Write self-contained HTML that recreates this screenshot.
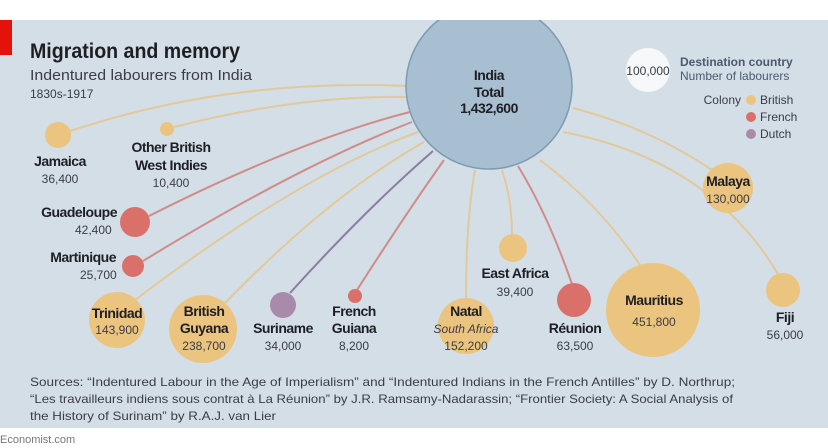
<!DOCTYPE html>
<html><head><meta charset="utf-8"><style>
html,body{margin:0;padding:0;background:#fff;}
svg{display:block;font-family:"Liberation Sans",sans-serif;}
.b{font-weight:bold;fill:#1e1e24;font-size:14px;letter-spacing:-0.5px;}
.n{fill:#3c3c44;font-size:12px;}
</style></head><body>
<svg width="828" height="448" viewBox="0 0 828 448" xmlns="http://www.w3.org/2000/svg">
<defs><clipPath id="pc"><rect x="0" y="20" width="828" height="408"/></clipPath></defs>
<rect x="0" y="20" width="828" height="408" fill="#d3dee7"/>
<rect x="0" y="20" width="12" height="35" fill="#e3120b"/>
<g fill="none" stroke-width="2">
<path d="M70,131 Q230,78 407,86" stroke="#e2c99b"/>
<path d="M174,127 Q300,95 408,97" stroke="#e2c99b"/>
<path d="M149,216 Q300,140 410,112" stroke="#cf8d8a"/>
<path d="M143,261 Q300,165 412,122" stroke="#cf8d8a"/>
<path d="M135,300 Q300,175 418,132" stroke="#e2c99b"/>
<path d="M225,303 Q330,195 424,142" stroke="#e2c99b"/>
<path d="M290,293 Q365,210 433,151" stroke="#8a7fa0"/>
<path d="M357,290 Q405,215 444,160" stroke="#cf8d8a"/>
<path d="M466,298 Q466,220 475,170" stroke="#e2c99b"/>
<path d="M512,234 Q512,200 502,170" stroke="#e2c99b"/>
<path d="M572,284 Q548,215 518,166" stroke="#cf8d8a"/>
<path d="M640,265 Q600,205 540,160" stroke="#e2c99b"/>
<path d="M778,274 Q710,160 563,132" stroke="#e2c99b"/>
<path d="M712,170 Q650,128 573,108" stroke="#e2c99b"/>
</g>
<g clip-path="url(#pc)">
<circle cx="489" cy="86" r="83" fill="#a7bfd1" stroke="#7f9bb0" stroke-width="1.5"/>
</g>
<g fill="#ebc47f">
<circle cx="58" cy="135" r="13"/><circle cx="167" cy="129" r="7"/>
<circle cx="117" cy="320" r="28"/><circle cx="203" cy="329" r="34"/>
<circle cx="466" cy="326" r="28"/><circle cx="513" cy="248" r="14"/>
<circle cx="653" cy="310" r="47"/><circle cx="783" cy="290" r="17"/>
<circle cx="728" cy="188" r="25"/>
</g>
<g fill="#d9716a">
<circle cx="135" cy="222" r="15"/><circle cx="133" cy="266" r="11"/>
<circle cx="355" cy="296" r="7"/><circle cx="574" cy="300" r="17"/>
</g>
<circle cx="283" cy="305" r="13" fill="#a98aab"/>
<circle cx="648" cy="70" r="22" fill="#f6f8fa"/>

<text x="30" y="58" font-size="21" font-weight="bold" fill="#1e1e24" textLength="210" lengthAdjust="spacingAndGlyphs">Migration and memory</text>
<text x="30" y="80" font-size="15" fill="#3c3c44" textLength="222" lengthAdjust="spacingAndGlyphs">Indentured labourers from India</text>
<text x="30" y="98" font-size="12" fill="#3c3c44">1830s-1917</text>

<g text-anchor="middle">
<text class="b" x="489" y="80" font-size="18">India</text>
<text class="b" x="489" y="97" font-size="13">Total</text>
<text class="b" x="489" y="113" font-size="13">1,432,600</text>
<text class="b" x="60" y="166">Jamaica</text><text class="n" x="60" y="183">36,400</text>
<text class="b" x="171" y="152">Other British</text><text class="b" x="171" y="170">West Indies</text><text class="n" x="171" y="187">10,400</text>
<text class="b" x="117" y="318">Trinidad</text><text class="n" x="117" y="334">143,900</text>
<text class="b" x="204" y="316">British</text><text class="b" x="204" y="333">Guyana</text><text class="n" x="204" y="350">238,700</text>
<text class="b" x="283" y="333">Suriname</text><text class="n" x="283" y="350">34,000</text>
<text class="b" x="354" y="316">French</text><text class="b" x="354" y="333">Guiana</text><text class="n" x="354" y="350">8,200</text>
<text class="b" x="466" y="316">Natal</text><text class="n" x="466" y="333" font-style="italic">South Africa</text><text class="n" x="466" y="350">152,200</text>
<text class="b" x="515" y="278">East Africa</text><text class="n" x="515" y="296">39,400</text>
<text class="b" x="575" y="333">Réunion</text><text class="n" x="575" y="350">63,500</text>
<text class="b" x="654" y="305">Mauritius</text><text class="n" x="654" y="326">451,800</text>
<text class="b" x="785" y="322">Fiji</text><text class="n" x="785" y="339">56,000</text>
<text class="b" x="728" y="186">Malaya</text><text class="n" x="728" y="203">130,000</text>
<text class="n" x="648" y="75">100,000</text>
</g>
<g text-anchor="end">
<text class="b" x="117" y="217">Guadeloupe</text><text class="b" x="116" y="262">Martinique</text>
<text class="n" x="741" y="104" fill="#4a5a70">Colony</text>
</g>
<text class="n" x="75" y="234">42,400</text>
<text class="n" x="80" y="279">25,700</text>
<text x="680" y="66" font-size="12" font-weight="bold" fill="#4a5a70">Destination country</text>
<text x="680" y="80" font-size="12" fill="#4a5a70">Number of labourers</text>
<circle cx="751" cy="100" r="5" fill="#ebc47f"/><circle cx="751" cy="117" r="5" fill="#d9716a"/><circle cx="751" cy="134" r="5" fill="#a98aab"/>
<text class="n" x="760" y="104" fill="#4a5a70">British</text>
<text class="n" x="760" y="121" fill="#4a5a70">French</text>
<text class="n" x="760" y="138" fill="#4a5a70">Dutch</text>

<g font-size="12" fill="#3c3c44">
<text x="30" y="386" textLength="705" lengthAdjust="spacingAndGlyphs">Sources: “Indentured Labour in the Age of Imperialism” and “Indentured Indians in the French Antilles” by D. Northrup;</text>
<text x="30" y="403" textLength="703" lengthAdjust="spacingAndGlyphs">“Les travailleurs indiens sous contrat à La Réunion” by J.R. Ramsamy-Nadarassin; “Frontier Society: A Social Analysis of</text>
<text x="30" y="420" textLength="246" lengthAdjust="spacingAndGlyphs">the History of Surinam” by R.A.J. van Lier</text>
</g>
<text x="0" y="443" font-size="11" fill="#777">Economist.com</text>
</svg>
</body></html>
